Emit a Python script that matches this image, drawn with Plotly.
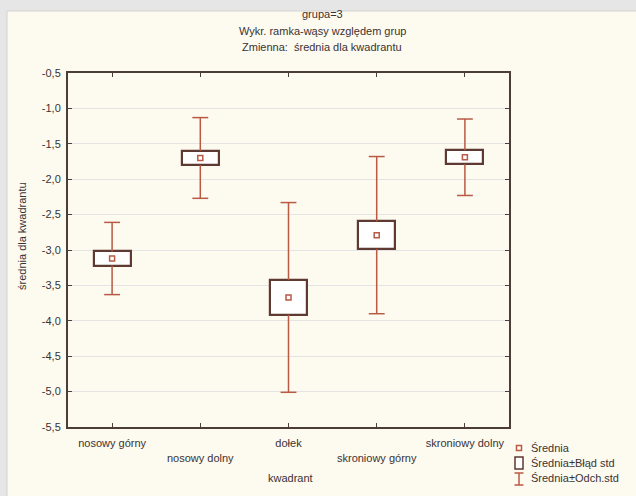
import plotly.graph_objects as go

# ---- data ----
categories = ["nosowy górny", "nosowy dolny", "dołek", "skroniowy górny", "skroniowy dolny"]
means = [-3.12, -1.70, -3.67, -2.79, -1.69]
std_err = [0.10, 0.10, 0.245, 0.195, 0.10]
std_dev = [0.51, 0.57, 1.34, 1.11, 0.54]
y_tick_vals = [-0.5, -1.0, -1.5, -2.0, -2.5, -3.0, -3.5, -4.0, -4.5, -5.0, -5.5]
y_tick_labels = ["-0,5", "-1,0", "-1,5", "-2,0", "-2,5", "-3,0", "-3,5", "-4,0", "-4,5", "-5,0", "-5,5"]
legend_labels = ["Średnia", "Średnia±Błąd std", "Średnia±Odch.std"]
title_lines = ["grupa=3", "Wykr. ramka-wąsy względem grup", "Zmienna:  średnia dla kwadrantu"]

# ---- style ----
W, H = 636, 496
L, R, T, B = 68, 127, 73, 69
PW, PH = W - L - R, H - T - B
FONT = "Liberation Sans, Arial, sans-serif"
TXT = "#3a3333"
RUST = "#b85a44"
BOXC = "#5e3a32"
FRAME = "#4d3d39"
CREAM = "#fdfaf0"


def px_x(px):
    return (px - L) / PW


def px_y(py):
    return (H - B - py) / PH


xs = list(range(len(categories)))
cap = 0.09

# whisker segments
wx, wy = [], []
for i, m, se, sd in zip(xs, means, std_err, std_dev):
    top, bot = m + sd, m - sd
    wx += [i - cap, i + cap, None, i, i, None, i, i, None, i - cap, i + cap, None]
    wy += [top, top, None, top, m + se, None, m - se, bot, None, bot, bot, None]

# staggered tick labels
tick_text = [c if k % 2 == 0 else "<br>" + c for k, c in enumerate(categories)]

fig = go.Figure()
fig.add_trace(go.Bar(
    x=xs, y=[2 * s for s in std_err], base=[m - s for m, s in zip(means, std_err)],
    width=0.42, marker=dict(color="white", line=dict(color=BOXC, width=2.2)),
    showlegend=False, hoverinfo="skip"))
fig.add_trace(go.Scatter(
    x=wx, y=wy, mode="lines", line=dict(color=RUST, width=1.5),
    showlegend=False, hoverinfo="skip"))
fig.add_trace(go.Scatter(
    x=xs, y=means, mode="markers",
    marker=dict(symbol="square-open", size=5, color=RUST, line=dict(width=1.5, color=RUST)),
    showlegend=False))

shapes = [
    dict(type="rect", xref="paper", yref="paper", layer="below",
         x0=px_x(7), x1=px_x(W + 5), y0=px_y(H + 5), y1=px_y(11),
         fillcolor=CREAM, line=dict(color="#d2d2d2", width=1)),
    # legend icons
    dict(type="rect", xref="paper", yref="paper",
         x0=px_x(516.5), x1=px_x(521.5), y0=px_y(450.5), y1=px_y(445.5),
         line=dict(color=RUST, width=1.5)),
    dict(type="rect", xref="paper", yref="paper",
         x0=px_x(515), x1=px_x(523), y0=px_y(469), y1=px_y(457),
         line=dict(color=BOXC, width=1.5), fillcolor="white"),
    dict(type="line", xref="paper", yref="paper",
         x0=px_x(519), x1=px_x(519), y0=px_y(485), y1=px_y(473),
         line=dict(color=RUST, width=1.5)),
    dict(type="line", xref="paper", yref="paper",
         x0=px_x(514.5), x1=px_x(523.5), y0=px_y(473), y1=px_y(473),
         line=dict(color=RUST, width=1.5)),
    dict(type="line", xref="paper", yref="paper",
         x0=px_x(514.5), x1=px_x(523.5), y0=px_y(485), y1=px_y(485),
         line=dict(color=RUST, width=1.5)),
]

annotations = []
for k, (lab, py) in enumerate(zip(legend_labels, [448, 463, 478])):
    annotations.append(dict(text=lab, xref="paper", yref="paper", x=px_x(529), y=px_y(py),
                            xanchor="left", yanchor="middle", showarrow=False,
                            font=dict(family=FONT, size=11, color=TXT)))
for line, py in zip(title_lines, [14, 31, 47]):
    annotations.append(dict(text=line, xref="paper", yref="paper", x=px_x(322), y=px_y(py),
                            xanchor="center", yanchor="middle", showarrow=False,
                            font=dict(family=FONT, size=11, color=TXT)))
annotations.append(dict(text="kwadrant", xref="paper", yref="paper", x=px_x(290), y=px_y(478),
                        xanchor="center", yanchor="middle", showarrow=False,
                        font=dict(family=FONT, size=11, color=TXT)))
annotations.append(dict(text="średnia dla kwadrantu", xref="paper", yref="paper",
                        x=px_x(22), y=px_y(236), textangle=-90,
                        xanchor="center", yanchor="middle", showarrow=False,
                        font=dict(family=FONT, size=11, color=TXT)))

fig.update_layout(
    width=W, height=H,
    margin=dict(l=L, r=R, t=T, b=B, pad=0),
    paper_bgcolor="#e6e6e6", plot_bgcolor="white",
    font=dict(family=FONT, size=11, color=TXT),
    shapes=shapes, annotations=annotations, showlegend=False,
    bargap=0,
)
fig.update_xaxes(
    range=[-0.5, len(categories) - 0.5], tickvals=xs, ticktext=tick_text,
    showgrid=False, zeroline=False, showline=True, linecolor=FRAME, linewidth=2,
    mirror="ticks", ticks="inside", ticklen=4, tickcolor=FRAME, tickwidth=1,
    ticklabelstandoff=5,
    tickfont=dict(family=FONT, size=11, color=TXT), fixedrange=True,
)
fig.update_yaxes(
    range=[-5.5, -0.5], tickvals=y_tick_vals, ticktext=y_tick_labels,
    showgrid=True, gridcolor="#e4e4e4", gridwidth=1, zeroline=False,
    showline=True, linecolor=FRAME, linewidth=2,
    mirror="ticks", ticks="inside", ticklen=4, tickcolor=FRAME, tickwidth=1,
    ticklabelstandoff=3,
    tickfont=dict(family=FONT, size=11, color=TXT), fixedrange=True,
)

fig.write_html(
    "out.html",
    config={"displayModeBar": False},
    post_script="document.body.style.margin='0';document.body.style.overflow='hidden';",
)
